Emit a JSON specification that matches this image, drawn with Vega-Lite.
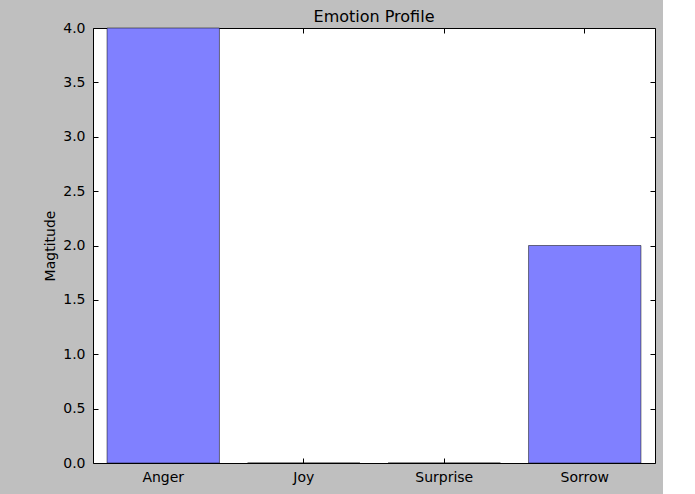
{
  "$schema": "https://vega.github.io/schema/vega-lite/v6.json",
  "autosize": {"type": "none"},
  "width": 562,
  "height": 435,
  "padding": {"left": 93, "top": 28, "right": 8, "bottom": 31},
  "background": "#bfbfbf",
  "title": {
    "text": "Emotion Profile",
    "font": "DejaVu Sans",
    "fontSize": 16,
    "fontWeight": "normal",
    "color": "#000000",
    "offset": -4
  },
  "data": {
    "values": [
      {"emotion": "Anger", "magnitude": 4},
      {"emotion": "Joy", "magnitude": 0},
      {"emotion": "Surprise", "magnitude": 0},
      {"emotion": "Sorrow", "magnitude": 2}
    ]
  },
  "layer": [
    {
      "mark": {"type": "bar", "color": "#8080ff", "stroke": "#000000", "strokeOpacity": 0.5, "strokeWidth": 1},
      "encoding": {
        "x": {
          "field": "emotion",
          "type": "nominal",
          "sort": null,
          "title": null,
          "scale": {"paddingInner": 0.2, "paddingOuter": 0.1},
          "axis": {"orient": "bottom", "labelAngle": 0, "tickSize": -5, "labelPadding": 12}
        },
        "y": {
          "field": "magnitude",
          "type": "quantitative",
          "title": "Magtitude",
          "scale": {"domain": [0, 4], "nice": false},
          "axis": {"orient": "left", "values": [0, 0.5, 1, 1.5, 2, 2.5, 3, 3.5, 4], "format": ".1f", "tickSize": -5, "labelPadding": 13, "titlePadding": 5}
        }
      }
    },
    {
      "mark": {"type": "bar", "opacity": 0},
      "encoding": {
        "x": {
          "field": "emotion",
          "type": "nominal",
          "sort": null,
          "axis": {"orient": "top", "labels": false, "title": null, "tickSize": -5}
        },
        "y": {
          "field": "magnitude",
          "type": "quantitative",
          "axis": {"orient": "right", "labels": false, "title": null, "values": [0, 0.5, 1, 1.5, 2, 2.5, 3, 3.5, 4], "tickSize": -5}
        }
      }
    }
  ],
  "resolve": {"axis": {"x": "independent", "y": "independent"}},
  "config": {
    "view": {"fill": "#ffffff", "stroke": "#000000", "strokeWidth": 1},
    "axis": {
      "grid": false,
      "domain": false,
      "tickColor": "#000000",
      "tickWidth": 1,
      "labelFont": "DejaVu Sans",
      "labelFontSize": 14,
      "labelColor": "#000000",
      "titleFont": "DejaVu Sans",
      "titleFontSize": 14,
      "titleFontWeight": "normal",
      "titleColor": "#000000"
    }
  }
}
